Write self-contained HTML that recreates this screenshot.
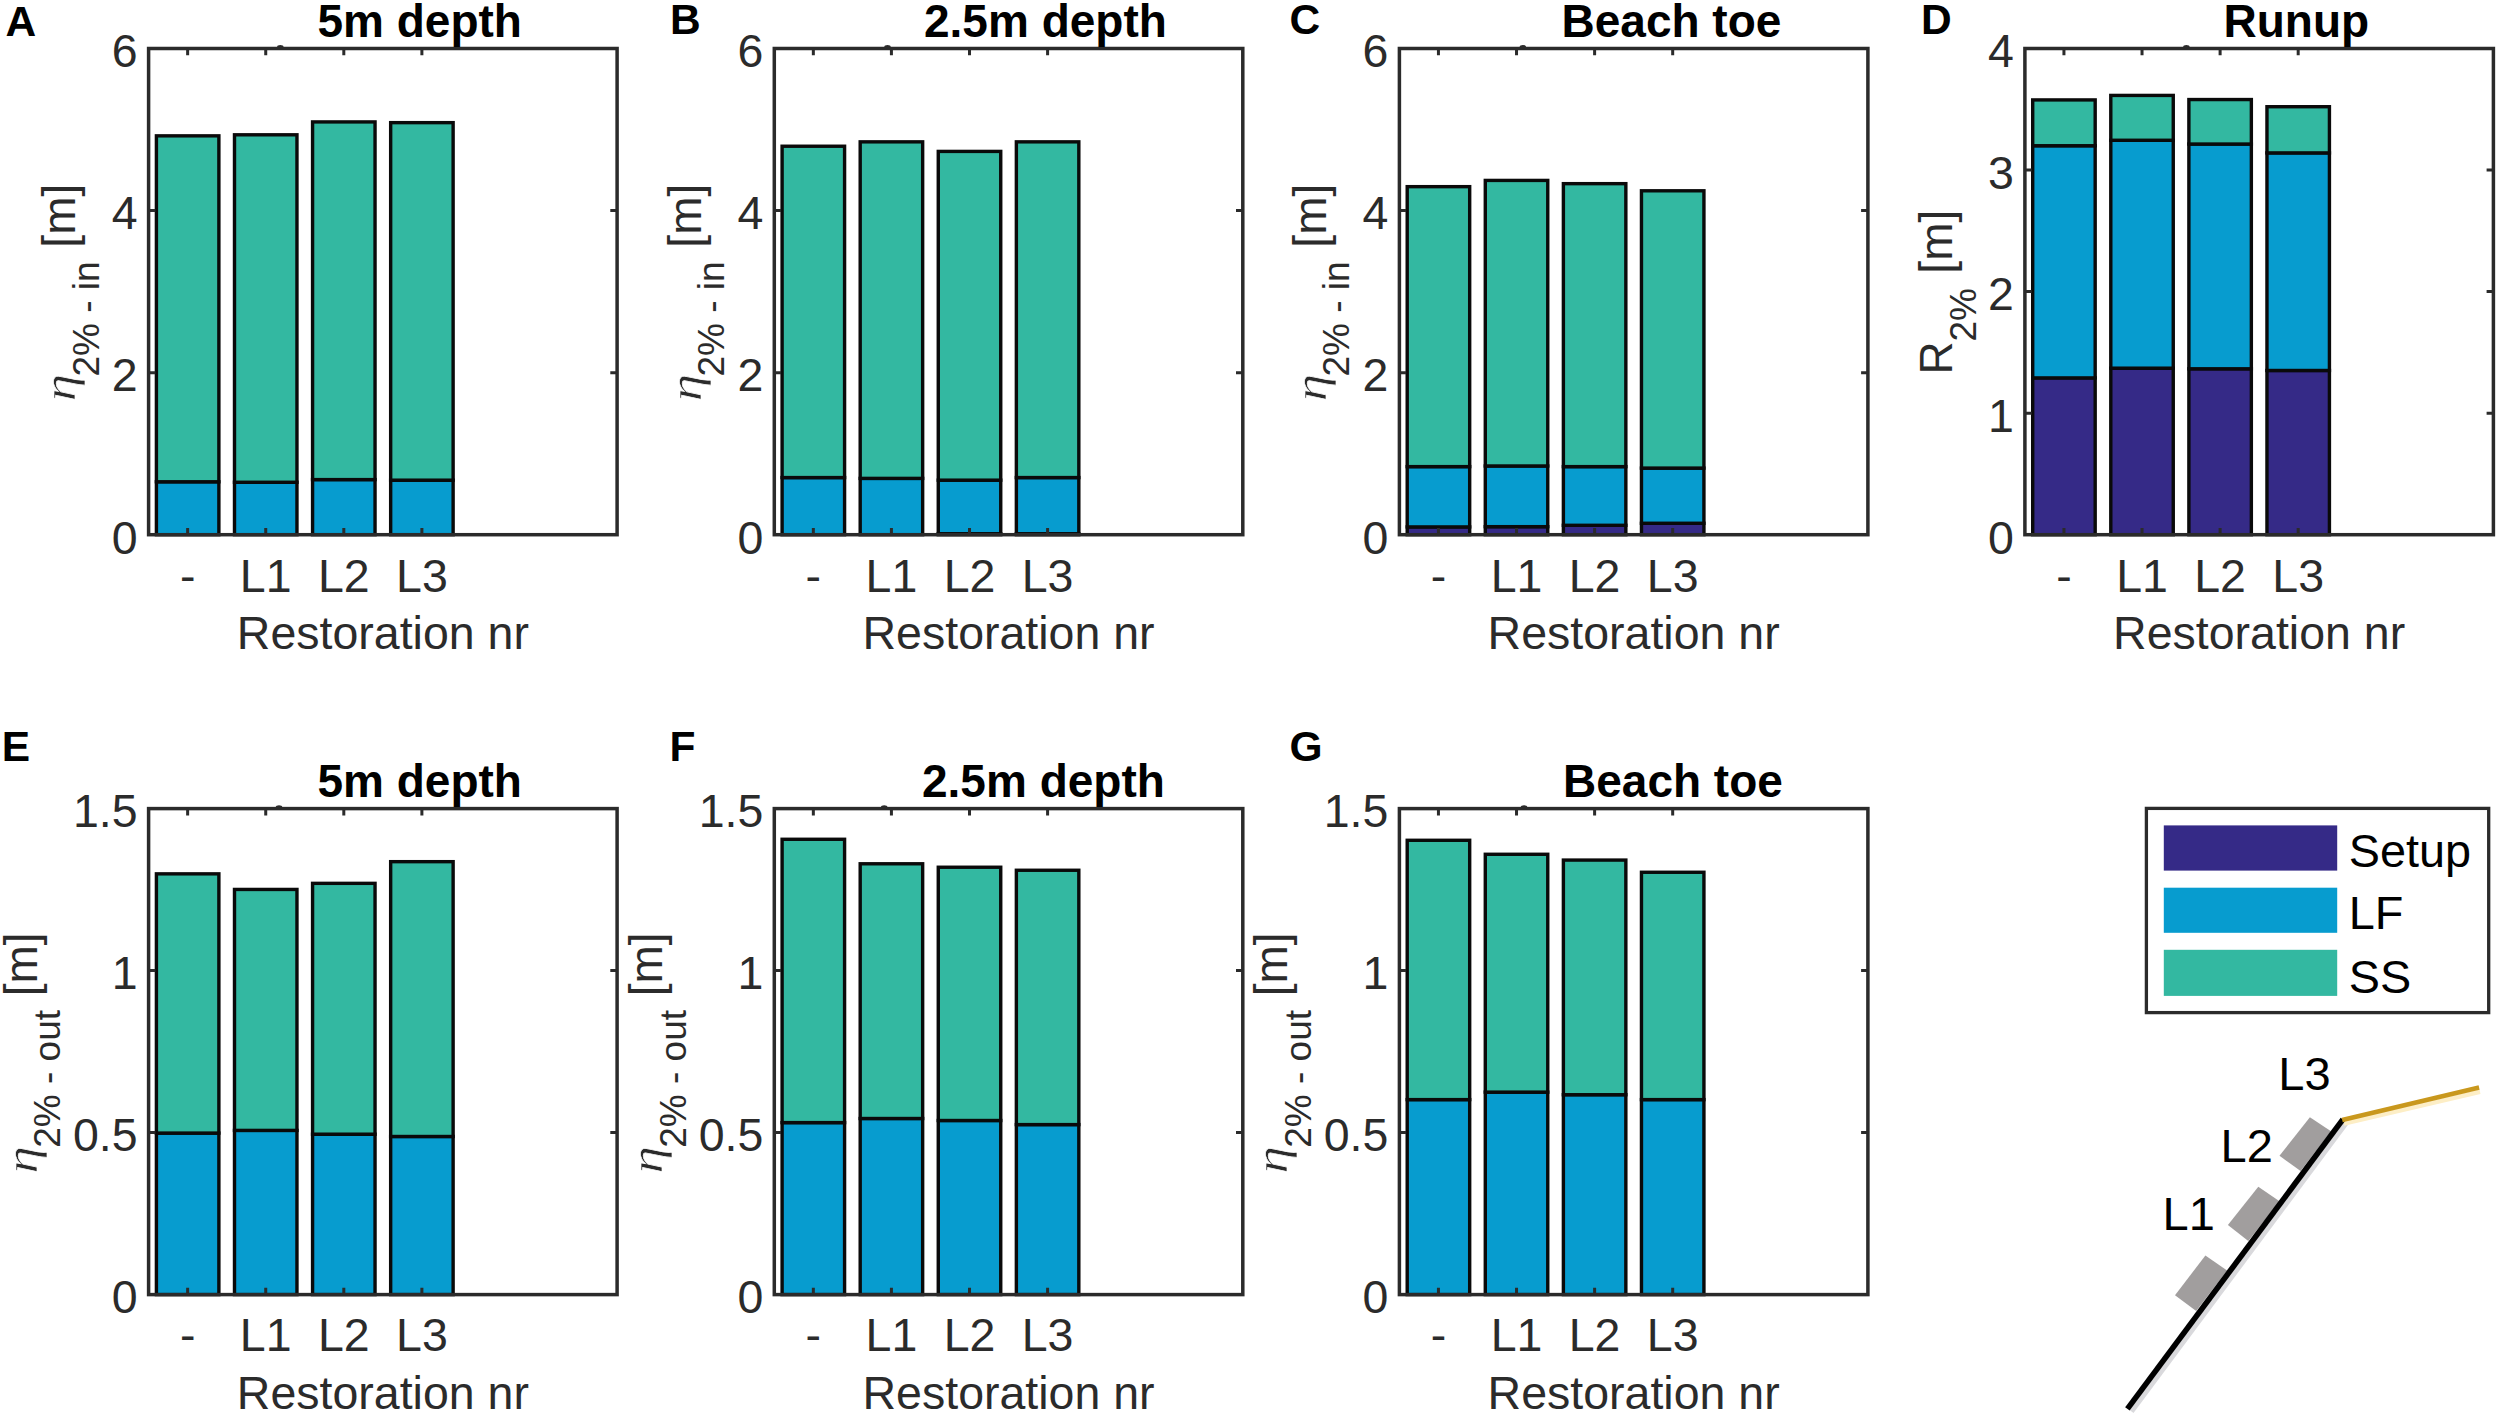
<!DOCTYPE html>
<html lang="en"><head><meta charset="utf-8"><title>Figure</title>
<style>html,body{margin:0;padding:0;background:#fff}body{width:2500px;height:1414px;overflow:hidden}svg{display:block;font-family:'Liberation Sans', sans-serif}</style>
</head><body>
<svg width="2500" height="1414" viewBox="0 0 2500 1414">
<rect width="2500" height="1414" fill="#fff"/>
<g>
<rect x="156.41" y="481.79" width="62.47" height="52.91" fill="#079ccf" stroke="#0a0a0a" stroke-width="3.4" stroke-linejoin="miter"/>
<rect x="156.41" y="135.85" width="62.47" height="345.93" fill="#33b8a1" stroke="#0a0a0a" stroke-width="3.4" stroke-linejoin="miter"/>
<rect x="234.49" y="482.27" width="62.47" height="52.43" fill="#079ccf" stroke="#0a0a0a" stroke-width="3.4" stroke-linejoin="miter"/>
<rect x="234.49" y="134.8" width="62.47" height="347.47" fill="#33b8a1" stroke="#0a0a0a" stroke-width="3.4" stroke-linejoin="miter"/>
<rect x="312.57" y="479.6" width="62.47" height="55.1" fill="#079ccf" stroke="#0a0a0a" stroke-width="3.4" stroke-linejoin="miter"/>
<rect x="312.57" y="121.92" width="62.47" height="357.68" fill="#33b8a1" stroke="#0a0a0a" stroke-width="3.4" stroke-linejoin="miter"/>
<rect x="390.66" y="480.16" width="62.47" height="54.54" fill="#079ccf" stroke="#0a0a0a" stroke-width="3.4" stroke-linejoin="miter"/>
<rect x="390.66" y="122.65" width="62.47" height="357.52" fill="#33b8a1" stroke="#0a0a0a" stroke-width="3.4" stroke-linejoin="miter"/>
<path d="M187.64 534.7V527.9M187.64 48.5V55.3M265.73 534.7V527.9M265.73 48.5V55.3M343.81 534.7V527.9M343.81 48.5V55.3M421.89 534.7V527.9M421.89 48.5V55.3M148.6 372.63H155.4M617.1 372.63H610.3M148.6 210.57H155.4M617.1 210.57H610.3" stroke="#2b2b2b" stroke-width="3" fill="none"/>
<rect x="148.6" y="48.5" width="468.5" height="486.2" fill="none" stroke="#2b2b2b" stroke-width="3.5"/>
<ellipse cx="280.3" cy="46.7" rx="3.2" ry="1.6" fill="#2b2b2b"/>
<text x="137.6" y="553.5" text-anchor="end" font-size="46.5" fill="#2b2b2b">0</text>
<text x="137.6" y="391.43" text-anchor="end" font-size="46.5" fill="#2b2b2b">2</text>
<text x="137.6" y="229.37" text-anchor="end" font-size="46.5" fill="#2b2b2b">4</text>
<text x="137.6" y="67.3" text-anchor="end" font-size="46.5" fill="#2b2b2b">6</text>
<text x="187.64" y="591.5" text-anchor="middle" font-size="46.5" fill="#2b2b2b">-</text>
<text x="265.73" y="591.5" text-anchor="middle" font-size="46.5" fill="#2b2b2b">L1</text>
<text x="343.81" y="591.5" text-anchor="middle" font-size="46.5" fill="#2b2b2b">L2</text>
<text x="421.89" y="591.5" text-anchor="middle" font-size="46.5" fill="#2b2b2b">L3</text>
<text x="382.85" y="649" text-anchor="middle" font-size="46.5" fill="#2b2b2b">Restoration nr</text>
<text x="317.5" y="37.1" font-size="46" font-weight="bold" fill="#000">5m depth</text>
<text x="5.5" y="35.6" font-size="42.5" font-weight="bold" fill="#000">A</text>
<text transform="translate(75 399.3) rotate(-90) scale(1.2 1)" x="-1.6" y="0" font-family="'Liberation Serif', serif" font-style="italic" font-size="46" fill="#2b2b2b" stroke="#fff" stroke-width="0.6">η</text>
<text transform="translate(75 399.3) rotate(-90)" font-size="46" fill="#2b2b2b"><tspan x="22.8" y="23.6" font-size="37">2% - in</tspan><tspan x="138.9" y="0"> [m]</tspan></text>
</g>
<g>
<rect x="782.11" y="477.57" width="62.47" height="57.13" fill="#079ccf" stroke="#0a0a0a" stroke-width="3.4" stroke-linejoin="miter"/>
<rect x="782.11" y="146.23" width="62.47" height="331.35" fill="#33b8a1" stroke="#0a0a0a" stroke-width="3.4" stroke-linejoin="miter"/>
<rect x="860.19" y="478.38" width="62.47" height="56.32" fill="#079ccf" stroke="#0a0a0a" stroke-width="3.4" stroke-linejoin="miter"/>
<rect x="860.19" y="141.85" width="62.47" height="336.53" fill="#33b8a1" stroke="#0a0a0a" stroke-width="3.4" stroke-linejoin="miter"/>
<rect x="938.27" y="533.73" width="62.47" height="0.97" fill="#352a87" stroke="#0a0a0a" stroke-width="3.4" stroke-linejoin="miter"/>
<rect x="938.27" y="480.16" width="62.47" height="53.56" fill="#079ccf" stroke="#0a0a0a" stroke-width="3.4" stroke-linejoin="miter"/>
<rect x="938.27" y="151.41" width="62.47" height="328.75" fill="#33b8a1" stroke="#0a0a0a" stroke-width="3.4" stroke-linejoin="miter"/>
<rect x="1016.36" y="533.73" width="62.47" height="0.97" fill="#352a87" stroke="#0a0a0a" stroke-width="3.4" stroke-linejoin="miter"/>
<rect x="1016.36" y="477.57" width="62.47" height="56.16" fill="#079ccf" stroke="#0a0a0a" stroke-width="3.4" stroke-linejoin="miter"/>
<rect x="1016.36" y="141.85" width="62.47" height="335.72" fill="#33b8a1" stroke="#0a0a0a" stroke-width="3.4" stroke-linejoin="miter"/>
<path d="M813.34 534.7V527.9M813.34 48.5V55.3M891.42 534.7V527.9M891.42 48.5V55.3M969.51 534.7V527.9M969.51 48.5V55.3M1047.59 534.7V527.9M1047.59 48.5V55.3M774.3 372.63H781.1M1242.8 372.63H1236M774.3 210.57H781.1M1242.8 210.57H1236" stroke="#2b2b2b" stroke-width="3" fill="none"/>
<rect x="774.3" y="48.5" width="468.5" height="486.2" fill="none" stroke="#2b2b2b" stroke-width="3.5"/>
<ellipse cx="887.5" cy="46.7" rx="3.2" ry="1.6" fill="#2b2b2b"/>
<text x="763.3" y="553.5" text-anchor="end" font-size="46.5" fill="#2b2b2b">0</text>
<text x="763.3" y="391.43" text-anchor="end" font-size="46.5" fill="#2b2b2b">2</text>
<text x="763.3" y="229.37" text-anchor="end" font-size="46.5" fill="#2b2b2b">4</text>
<text x="763.3" y="67.3" text-anchor="end" font-size="46.5" fill="#2b2b2b">6</text>
<text x="813.34" y="591.5" text-anchor="middle" font-size="46.5" fill="#2b2b2b">-</text>
<text x="891.42" y="591.5" text-anchor="middle" font-size="46.5" fill="#2b2b2b">L1</text>
<text x="969.51" y="591.5" text-anchor="middle" font-size="46.5" fill="#2b2b2b">L2</text>
<text x="1047.59" y="591.5" text-anchor="middle" font-size="46.5" fill="#2b2b2b">L3</text>
<text x="1008.55" y="649" text-anchor="middle" font-size="46.5" fill="#2b2b2b">Restoration nr</text>
<text x="924" y="37.1" font-size="46" font-weight="bold" fill="#000">2.5m depth</text>
<text x="670" y="34.2" font-size="42.5" font-weight="bold" fill="#000">B</text>
<text transform="translate(700.7 399.3) rotate(-90) scale(1.2 1)" x="-1.6" y="0" font-family="'Liberation Serif', serif" font-style="italic" font-size="46" fill="#2b2b2b" stroke="#fff" stroke-width="0.6">η</text>
<text transform="translate(700.7 399.3) rotate(-90)" font-size="46" fill="#2b2b2b"><tspan x="22.8" y="23.6" font-size="37">2% - in</tspan><tspan x="138.9" y="0"> [m]</tspan></text>
</g>
<g>
<rect x="1407.21" y="526.92" width="62.47" height="7.78" fill="#352a87" stroke="#0a0a0a" stroke-width="3.4" stroke-linejoin="miter"/>
<rect x="1407.21" y="466.63" width="62.47" height="60.29" fill="#079ccf" stroke="#0a0a0a" stroke-width="3.4" stroke-linejoin="miter"/>
<rect x="1407.21" y="186.66" width="62.47" height="279.97" fill="#33b8a1" stroke="#0a0a0a" stroke-width="3.4" stroke-linejoin="miter"/>
<rect x="1485.29" y="526.68" width="62.47" height="8.02" fill="#352a87" stroke="#0a0a0a" stroke-width="3.4" stroke-linejoin="miter"/>
<rect x="1485.29" y="465.98" width="62.47" height="60.69" fill="#079ccf" stroke="#0a0a0a" stroke-width="3.4" stroke-linejoin="miter"/>
<rect x="1485.29" y="180.42" width="62.47" height="285.56" fill="#33b8a1" stroke="#0a0a0a" stroke-width="3.4" stroke-linejoin="miter"/>
<rect x="1563.38" y="525.3" width="62.47" height="9.4" fill="#352a87" stroke="#0a0a0a" stroke-width="3.4" stroke-linejoin="miter"/>
<rect x="1563.38" y="466.63" width="62.47" height="58.67" fill="#079ccf" stroke="#0a0a0a" stroke-width="3.4" stroke-linejoin="miter"/>
<rect x="1563.38" y="183.66" width="62.47" height="282.97" fill="#33b8a1" stroke="#0a0a0a" stroke-width="3.4" stroke-linejoin="miter"/>
<rect x="1641.46" y="523.27" width="62.47" height="11.43" fill="#352a87" stroke="#0a0a0a" stroke-width="3.4" stroke-linejoin="miter"/>
<rect x="1641.46" y="468.09" width="62.47" height="55.18" fill="#079ccf" stroke="#0a0a0a" stroke-width="3.4" stroke-linejoin="miter"/>
<rect x="1641.46" y="190.79" width="62.47" height="277.3" fill="#33b8a1" stroke="#0a0a0a" stroke-width="3.4" stroke-linejoin="miter"/>
<path d="M1438.44 534.7V527.9M1438.44 48.5V55.3M1516.53 534.7V527.9M1516.53 48.5V55.3M1594.61 534.7V527.9M1594.61 48.5V55.3M1672.69 534.7V527.9M1672.69 48.5V55.3M1399.4 372.63H1406.2M1867.9 372.63H1861.1M1399.4 210.57H1406.2M1867.9 210.57H1861.1" stroke="#2b2b2b" stroke-width="3" fill="none"/>
<rect x="1399.4" y="48.5" width="468.5" height="486.2" fill="none" stroke="#2b2b2b" stroke-width="3.5"/>
<ellipse cx="1522.9" cy="46.7" rx="3.2" ry="1.6" fill="#2b2b2b"/>
<text x="1388.4" y="553.5" text-anchor="end" font-size="46.5" fill="#2b2b2b">0</text>
<text x="1388.4" y="391.43" text-anchor="end" font-size="46.5" fill="#2b2b2b">2</text>
<text x="1388.4" y="229.37" text-anchor="end" font-size="46.5" fill="#2b2b2b">4</text>
<text x="1388.4" y="67.3" text-anchor="end" font-size="46.5" fill="#2b2b2b">6</text>
<text x="1438.44" y="591.5" text-anchor="middle" font-size="46.5" fill="#2b2b2b">-</text>
<text x="1516.53" y="591.5" text-anchor="middle" font-size="46.5" fill="#2b2b2b">L1</text>
<text x="1594.61" y="591.5" text-anchor="middle" font-size="46.5" fill="#2b2b2b">L2</text>
<text x="1672.69" y="591.5" text-anchor="middle" font-size="46.5" fill="#2b2b2b">L3</text>
<text x="1633.65" y="649" text-anchor="middle" font-size="46.5" fill="#2b2b2b">Restoration nr</text>
<text x="1561.5" y="37.1" font-size="46" font-weight="bold" fill="#000">Beach toe</text>
<text x="1289.5" y="34.4" font-size="42.5" font-weight="bold" fill="#000">C</text>
<text transform="translate(1325.8 399.3) rotate(-90) scale(1.2 1)" x="-1.6" y="0" font-family="'Liberation Serif', serif" font-style="italic" font-size="46" fill="#2b2b2b" stroke="#fff" stroke-width="0.6">η</text>
<text transform="translate(1325.8 399.3) rotate(-90)" font-size="46" fill="#2b2b2b"><tspan x="22.8" y="23.6" font-size="37">2% - in</tspan><tspan x="138.9" y="0"> [m]</tspan></text>
</g>
<g>
<rect x="2032.71" y="377.9" width="62.47" height="156.8" fill="#352a87" stroke="#0a0a0a" stroke-width="3.4" stroke-linejoin="miter"/>
<rect x="2032.71" y="145.74" width="62.47" height="232.16" fill="#079ccf" stroke="#0a0a0a" stroke-width="3.4" stroke-linejoin="miter"/>
<rect x="2032.71" y="99.92" width="62.47" height="45.82" fill="#33b8a1" stroke="#0a0a0a" stroke-width="3.4" stroke-linejoin="miter"/>
<rect x="2110.79" y="368.18" width="62.47" height="166.52" fill="#352a87" stroke="#0a0a0a" stroke-width="3.4" stroke-linejoin="miter"/>
<rect x="2110.79" y="140.27" width="62.47" height="227.91" fill="#079ccf" stroke="#0a0a0a" stroke-width="3.4" stroke-linejoin="miter"/>
<rect x="2110.79" y="95.42" width="62.47" height="44.85" fill="#33b8a1" stroke="#0a0a0a" stroke-width="3.4" stroke-linejoin="miter"/>
<rect x="2188.88" y="368.78" width="62.47" height="165.92" fill="#352a87" stroke="#0a0a0a" stroke-width="3.4" stroke-linejoin="miter"/>
<rect x="2188.88" y="144.04" width="62.47" height="224.75" fill="#079ccf" stroke="#0a0a0a" stroke-width="3.4" stroke-linejoin="miter"/>
<rect x="2188.88" y="99.55" width="62.47" height="44.49" fill="#33b8a1" stroke="#0a0a0a" stroke-width="3.4" stroke-linejoin="miter"/>
<rect x="2266.96" y="370.49" width="62.47" height="164.21" fill="#352a87" stroke="#0a0a0a" stroke-width="3.4" stroke-linejoin="miter"/>
<rect x="2266.96" y="152.91" width="62.47" height="217.57" fill="#079ccf" stroke="#0a0a0a" stroke-width="3.4" stroke-linejoin="miter"/>
<rect x="2266.96" y="106.72" width="62.47" height="46.19" fill="#33b8a1" stroke="#0a0a0a" stroke-width="3.4" stroke-linejoin="miter"/>
<path d="M2063.94 534.7V527.9M2063.94 48.5V55.3M2142.03 534.7V527.9M2142.03 48.5V55.3M2220.11 534.7V527.9M2220.11 48.5V55.3M2298.19 534.7V527.9M2298.19 48.5V55.3M2024.9 413.15H2031.7M2493.4 413.15H2486.6M2024.9 291.6H2031.7M2493.4 291.6H2486.6M2024.9 170.05H2031.7M2493.4 170.05H2486.6" stroke="#2b2b2b" stroke-width="3" fill="none"/>
<rect x="2024.9" y="48.5" width="468.5" height="486.2" fill="none" stroke="#2b2b2b" stroke-width="3.5"/>
<ellipse cx="2186.4" cy="46.7" rx="3.2" ry="1.6" fill="#2b2b2b"/>
<text x="2013.9" y="553.5" text-anchor="end" font-size="46.5" fill="#2b2b2b">0</text>
<text x="2013.9" y="431.95" text-anchor="end" font-size="46.5" fill="#2b2b2b">1</text>
<text x="2013.9" y="310.4" text-anchor="end" font-size="46.5" fill="#2b2b2b">2</text>
<text x="2013.9" y="188.85" text-anchor="end" font-size="46.5" fill="#2b2b2b">3</text>
<text x="2013.9" y="67.3" text-anchor="end" font-size="46.5" fill="#2b2b2b">4</text>
<text x="2063.94" y="591.5" text-anchor="middle" font-size="46.5" fill="#2b2b2b">-</text>
<text x="2142.03" y="591.5" text-anchor="middle" font-size="46.5" fill="#2b2b2b">L1</text>
<text x="2220.11" y="591.5" text-anchor="middle" font-size="46.5" fill="#2b2b2b">L2</text>
<text x="2298.19" y="591.5" text-anchor="middle" font-size="46.5" fill="#2b2b2b">L3</text>
<text x="2259.15" y="649" text-anchor="middle" font-size="46.5" fill="#2b2b2b">Restoration nr</text>
<text x="2223.5" y="37.1" font-size="46" font-weight="bold" fill="#000">Runup</text>
<text x="1921" y="34.4" font-size="42.5" font-weight="bold" fill="#000">D</text>
<text transform="translate(1951.5 371) rotate(-90)" font-size="46" fill="#2b2b2b"><tspan x="-3.6" y="0">R</tspan><tspan x="29.4" y="24.6" font-size="37">2%</tspan><tspan x="84.6" y="0"> [m]</tspan></text>
</g>
<g>
<rect x="156.41" y="1133.09" width="62.47" height="161.51" fill="#079ccf" stroke="#0a0a0a" stroke-width="3.4" stroke-linejoin="miter"/>
<rect x="156.41" y="873.85" width="62.47" height="259.23" fill="#33b8a1" stroke="#0a0a0a" stroke-width="3.4" stroke-linejoin="miter"/>
<rect x="234.49" y="1130.4" width="62.47" height="164.2" fill="#079ccf" stroke="#0a0a0a" stroke-width="3.4" stroke-linejoin="miter"/>
<rect x="234.49" y="889.44" width="62.47" height="240.96" fill="#33b8a1" stroke="#0a0a0a" stroke-width="3.4" stroke-linejoin="miter"/>
<rect x="312.57" y="1134.19" width="62.47" height="160.41" fill="#079ccf" stroke="#0a0a0a" stroke-width="3.4" stroke-linejoin="miter"/>
<rect x="312.57" y="883.35" width="62.47" height="250.84" fill="#33b8a1" stroke="#0a0a0a" stroke-width="3.4" stroke-linejoin="miter"/>
<rect x="390.66" y="1136.49" width="62.47" height="158.11" fill="#079ccf" stroke="#0a0a0a" stroke-width="3.4" stroke-linejoin="miter"/>
<rect x="390.66" y="861.67" width="62.47" height="274.82" fill="#33b8a1" stroke="#0a0a0a" stroke-width="3.4" stroke-linejoin="miter"/>
<path d="M187.64 1294.6V1287.8M187.64 808.6V815.4M265.73 1294.6V1287.8M265.73 808.6V815.4M343.81 1294.6V1287.8M343.81 808.6V815.4M421.89 1294.6V1287.8M421.89 808.6V815.4M148.6 1132.6H155.4M617.1 1132.6H610.3M148.6 970.6H155.4M617.1 970.6H610.3" stroke="#2b2b2b" stroke-width="3" fill="none"/>
<rect x="148.6" y="808.6" width="468.5" height="486" fill="none" stroke="#2b2b2b" stroke-width="3.5"/>
<ellipse cx="279" cy="806.8" rx="3.2" ry="1.6" fill="#2b2b2b"/>
<text x="137.6" y="1313.4" text-anchor="end" font-size="46.5" fill="#2b2b2b">0</text>
<text x="137.6" y="1151.4" text-anchor="end" font-size="46.5" fill="#2b2b2b">0.5</text>
<text x="137.6" y="989.4" text-anchor="end" font-size="46.5" fill="#2b2b2b">1</text>
<text x="137.6" y="827.4" text-anchor="end" font-size="46.5" fill="#2b2b2b">1.5</text>
<text x="187.64" y="1351.4" text-anchor="middle" font-size="46.5" fill="#2b2b2b">-</text>
<text x="265.73" y="1351.4" text-anchor="middle" font-size="46.5" fill="#2b2b2b">L1</text>
<text x="343.81" y="1351.4" text-anchor="middle" font-size="46.5" fill="#2b2b2b">L2</text>
<text x="421.89" y="1351.4" text-anchor="middle" font-size="46.5" fill="#2b2b2b">L3</text>
<text x="382.85" y="1408.9" text-anchor="middle" font-size="46.5" fill="#2b2b2b">Restoration nr</text>
<text x="317.5" y="797.2" font-size="46" font-weight="bold" fill="#000">5m depth</text>
<text x="1.8" y="760.9" font-size="42.5" font-weight="bold" fill="#000">E</text>
<text transform="translate(36.6 1171.6) rotate(-90) scale(1.2 1)" x="-1.6" y="0" font-family="'Liberation Serif', serif" font-style="italic" font-size="46" fill="#2b2b2b" stroke="#fff" stroke-width="0.6">η</text>
<text transform="translate(36.6 1171.6) rotate(-90)" font-size="46" fill="#2b2b2b"><tspan x="23.8" y="23.6" font-size="37">2% - out</tspan><tspan x="162.5" y="0"> [m]</tspan></text>
</g>
<g>
<rect x="782.11" y="1122.62" width="62.47" height="171.98" fill="#079ccf" stroke="#0a0a0a" stroke-width="3.4" stroke-linejoin="miter"/>
<rect x="782.11" y="839.28" width="62.47" height="283.34" fill="#33b8a1" stroke="#0a0a0a" stroke-width="3.4" stroke-linejoin="miter"/>
<rect x="860.19" y="1118.51" width="62.47" height="176.09" fill="#079ccf" stroke="#0a0a0a" stroke-width="3.4" stroke-linejoin="miter"/>
<rect x="860.19" y="863.78" width="62.47" height="254.73" fill="#33b8a1" stroke="#0a0a0a" stroke-width="3.4" stroke-linejoin="miter"/>
<rect x="938.27" y="1120.51" width="62.47" height="174.09" fill="#079ccf" stroke="#0a0a0a" stroke-width="3.4" stroke-linejoin="miter"/>
<rect x="938.27" y="867.24" width="62.47" height="253.27" fill="#33b8a1" stroke="#0a0a0a" stroke-width="3.4" stroke-linejoin="miter"/>
<rect x="1016.36" y="1124.6" width="62.47" height="170" fill="#079ccf" stroke="#0a0a0a" stroke-width="3.4" stroke-linejoin="miter"/>
<rect x="1016.36" y="870.26" width="62.47" height="254.34" fill="#33b8a1" stroke="#0a0a0a" stroke-width="3.4" stroke-linejoin="miter"/>
<path d="M813.34 1294.6V1287.8M813.34 808.6V815.4M891.42 1294.6V1287.8M891.42 808.6V815.4M969.51 1294.6V1287.8M969.51 808.6V815.4M1047.59 1294.6V1287.8M1047.59 808.6V815.4M774.3 1132.6H781.1M1242.8 1132.6H1236M774.3 970.6H781.1M1242.8 970.6H1236" stroke="#2b2b2b" stroke-width="3" fill="none"/>
<rect x="774.3" y="808.6" width="468.5" height="486" fill="none" stroke="#2b2b2b" stroke-width="3.5"/>
<ellipse cx="884.2" cy="806.8" rx="3.2" ry="1.6" fill="#2b2b2b"/>
<text x="763.3" y="1313.4" text-anchor="end" font-size="46.5" fill="#2b2b2b">0</text>
<text x="763.3" y="1151.4" text-anchor="end" font-size="46.5" fill="#2b2b2b">0.5</text>
<text x="763.3" y="989.4" text-anchor="end" font-size="46.5" fill="#2b2b2b">1</text>
<text x="763.3" y="827.4" text-anchor="end" font-size="46.5" fill="#2b2b2b">1.5</text>
<text x="813.34" y="1351.4" text-anchor="middle" font-size="46.5" fill="#2b2b2b">-</text>
<text x="891.42" y="1351.4" text-anchor="middle" font-size="46.5" fill="#2b2b2b">L1</text>
<text x="969.51" y="1351.4" text-anchor="middle" font-size="46.5" fill="#2b2b2b">L2</text>
<text x="1047.59" y="1351.4" text-anchor="middle" font-size="46.5" fill="#2b2b2b">L3</text>
<text x="1008.55" y="1408.9" text-anchor="middle" font-size="46.5" fill="#2b2b2b">Restoration nr</text>
<text x="922" y="797.2" font-size="46" font-weight="bold" fill="#000">2.5m depth</text>
<text x="669.5" y="760.9" font-size="42.5" font-weight="bold" fill="#000">F</text>
<text transform="translate(662.3 1171.6) rotate(-90) scale(1.2 1)" x="-1.6" y="0" font-family="'Liberation Serif', serif" font-style="italic" font-size="46" fill="#2b2b2b" stroke="#fff" stroke-width="0.6">η</text>
<text transform="translate(662.3 1171.6) rotate(-90)" font-size="46" fill="#2b2b2b"><tspan x="23.8" y="23.6" font-size="37">2% - out</tspan><tspan x="162.5" y="0"> [m]</tspan></text>
</g>
<g>
<rect x="1407.21" y="1099.62" width="62.47" height="194.98" fill="#079ccf" stroke="#0a0a0a" stroke-width="3.4" stroke-linejoin="miter"/>
<rect x="1407.21" y="840.29" width="62.47" height="259.33" fill="#33b8a1" stroke="#0a0a0a" stroke-width="3.4" stroke-linejoin="miter"/>
<rect x="1485.29" y="1092.13" width="62.47" height="202.47" fill="#079ccf" stroke="#0a0a0a" stroke-width="3.4" stroke-linejoin="miter"/>
<rect x="1485.29" y="854.28" width="62.47" height="237.85" fill="#33b8a1" stroke="#0a0a0a" stroke-width="3.4" stroke-linejoin="miter"/>
<rect x="1563.38" y="1094.72" width="62.47" height="199.88" fill="#079ccf" stroke="#0a0a0a" stroke-width="3.4" stroke-linejoin="miter"/>
<rect x="1563.38" y="860.08" width="62.47" height="234.64" fill="#33b8a1" stroke="#0a0a0a" stroke-width="3.4" stroke-linejoin="miter"/>
<rect x="1641.46" y="1099.62" width="62.47" height="194.98" fill="#079ccf" stroke="#0a0a0a" stroke-width="3.4" stroke-linejoin="miter"/>
<rect x="1641.46" y="872.27" width="62.47" height="227.35" fill="#33b8a1" stroke="#0a0a0a" stroke-width="3.4" stroke-linejoin="miter"/>
<path d="M1438.44 1294.6V1287.8M1438.44 808.6V815.4M1516.53 1294.6V1287.8M1516.53 808.6V815.4M1594.61 1294.6V1287.8M1594.61 808.6V815.4M1672.69 1294.6V1287.8M1672.69 808.6V815.4M1399.4 1132.6H1406.2M1867.9 1132.6H1861.1M1399.4 970.6H1406.2M1867.9 970.6H1861.1" stroke="#2b2b2b" stroke-width="3" fill="none"/>
<rect x="1399.4" y="808.6" width="468.5" height="486" fill="none" stroke="#2b2b2b" stroke-width="3.5"/>
<ellipse cx="1524" cy="806.8" rx="3.2" ry="1.6" fill="#2b2b2b"/>
<text x="1388.4" y="1313.4" text-anchor="end" font-size="46.5" fill="#2b2b2b">0</text>
<text x="1388.4" y="1151.4" text-anchor="end" font-size="46.5" fill="#2b2b2b">0.5</text>
<text x="1388.4" y="989.4" text-anchor="end" font-size="46.5" fill="#2b2b2b">1</text>
<text x="1388.4" y="827.4" text-anchor="end" font-size="46.5" fill="#2b2b2b">1.5</text>
<text x="1438.44" y="1351.4" text-anchor="middle" font-size="46.5" fill="#2b2b2b">-</text>
<text x="1516.53" y="1351.4" text-anchor="middle" font-size="46.5" fill="#2b2b2b">L1</text>
<text x="1594.61" y="1351.4" text-anchor="middle" font-size="46.5" fill="#2b2b2b">L2</text>
<text x="1672.69" y="1351.4" text-anchor="middle" font-size="46.5" fill="#2b2b2b">L3</text>
<text x="1633.65" y="1408.9" text-anchor="middle" font-size="46.5" fill="#2b2b2b">Restoration nr</text>
<text x="1563" y="797.2" font-size="46" font-weight="bold" fill="#000">Beach toe</text>
<text x="1289.5" y="760.9" font-size="42.5" font-weight="bold" fill="#000">G</text>
<text transform="translate(1287.4 1171.6) rotate(-90) scale(1.2 1)" x="-1.6" y="0" font-family="'Liberation Serif', serif" font-style="italic" font-size="46" fill="#2b2b2b" stroke="#fff" stroke-width="0.6">η</text>
<text transform="translate(1287.4 1171.6) rotate(-90)" font-size="46" fill="#2b2b2b"><tspan x="23.8" y="23.6" font-size="37">2% - out</tspan><tspan x="162.5" y="0"> [m]</tspan></text>
</g>
<g>
<rect x="2146.4" y="808.4" width="342.3" height="204.2" fill="#fff" stroke="#2b2b2b" stroke-width="3.3"/>
<rect x="2163.8" y="825.4" width="173.4" height="45.2" fill="#352a87"/>
<rect x="2163.8" y="887.7" width="173.4" height="45.1" fill="#079ccf"/>
<rect x="2163.8" y="949.8" width="173.4" height="46.1" fill="#33b8a1"/>
<text x="2348.8" y="867" font-size="46.8" fill="#000">Setup</text>
<text x="2348.8" y="929.4" font-size="46.8" fill="#000">LF</text>
<text x="2348.8" y="992.7" font-size="46.8" fill="#000">SS</text>
</g>
<g>
<path d="M2131.5 1411.5L2347 1122" stroke="#d9d9dc" stroke-width="5" fill="none"/>
<path d="M2344 1123.5L2480 1091.8" stroke="#fdeec6" stroke-width="4.5" fill="none"/>
<polygon points="2309.9,1117.2 2331,1131.2 2300.6,1170.9 2279.5,1155.8" fill="#a19e9e"/>
<polygon points="2258.3,1186.7 2279.5,1201.3 2248.3,1241 2227.9,1225.1" fill="#a19e9e"/>
<polygon points="2205.4,1255.5 2227.1,1270.6 2196.2,1311 2175,1295.2" fill="#a19e9e"/>
<path d="M2127.4 1408.9L2342.9 1119.3" stroke="#000" stroke-width="5.6" fill="none"/>
<path d="M2342.2 1120L2479.1 1087.6" stroke="#c9981d" stroke-width="4.6" fill="none"/>
<text x="2278.3" y="1089.7" font-size="47" fill="#000">L3</text>
<text x="2220.6" y="1162.2" font-size="47" fill="#000">L2</text>
<text x="2162.5" y="1230.4" font-size="47" fill="#000">L1</text>
</g>
</svg>
</body></html>
